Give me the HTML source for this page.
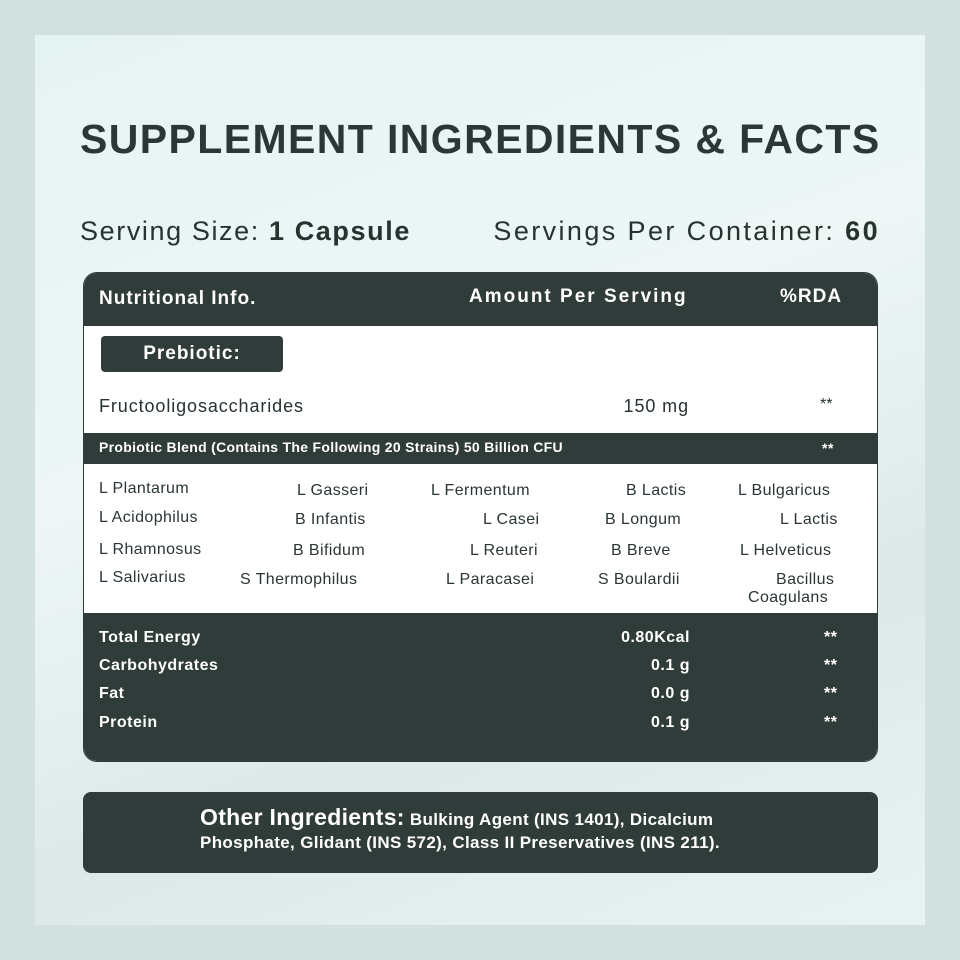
<!DOCTYPE html>
<html><head><style>
body{margin:0;width:960px;height:960px;background:#d2e1e0;position:relative;overflow:hidden;font-family:"Liberation Sans",sans-serif;color:#26332f}
.p{position:absolute;left:35px;top:35px;width:890px;height:890px;background:linear-gradient(160deg,#e6f3f3 0%,#eef6f6 40%,#dde9e9 70%,#e8f2f2 100%)}
.a{position:absolute;white-space:nowrap}
.d{background:#2f3c3a;color:#fff}
.b{font-weight:bold}
.s{font-size:16px;color:#2a3633;letter-spacing:0.4px}
.w{color:#fff;font-weight:bold;font-size:16px;letter-spacing:0.5px}
.r{text-align:right}
</style></head><body>
<div class="p"></div>
<div class="a b" style="left:80px;top:116px;font-size:41px;letter-spacing:1.4px;color:#2a3835">SUPPLEMENT INGREDIENTS &amp; FACTS</div>
<div class="a" style="left:80px;top:216px;font-size:27px;letter-spacing:1.6px">Serving Size: <b>1 Capsule</b></div>
<div class="a r" style="right:80px;top:216px;font-size:27px;letter-spacing:2.4px">Servings Per Container: <b>60</b></div>
<div class="a" style="left:83px;top:272px;width:795px;height:490px;border-radius:14px;background:#fff;overflow:hidden;border:1px solid #2f3c3a;box-sizing:border-box">
 <div class="a d" style="left:0;top:0;width:795px;height:53px"></div>
 <div class="a d" style="left:0;top:160px;width:795px;height:31px"></div>
 <div class="a d" style="left:0;top:340px;width:795px;height:150px"></div>
</div>
<div class="a w" style="left:99px;top:288px;font-size:19px;letter-spacing:1px">Nutritional Info.</div>
<div class="a w" style="left:469px;top:286px;font-size:19px;letter-spacing:2px">Amount Per Serving</div>
<div class="a w" style="left:780px;top:286px;font-size:19px;letter-spacing:1px">%RDA</div>
<div class="a d b" style="left:101px;top:336px;width:182px;height:36px;border-radius:4px;font-size:19px;text-align:center;line-height:36px;letter-spacing:1px">Prebiotic:</div>
<div class="a" style="left:99px;top:396px;font-size:18px;letter-spacing:0.9px">Fructooligosaccharides</div>
<div class="a r" style="right:271px;top:396px;font-size:18px;letter-spacing:0.9px">150 mg</div>
<div class="a" style="left:820px;top:396px;font-size:16px">**</div>
<div class="a w" style="left:99px;top:439px;font-size:14px;letter-spacing:0.3px">Probiotic Blend (Contains The Following 20 Strains) 50 Billion CFU</div>
<div class="a w" style="left:822px;top:440px;font-size:14px">**</div>
<div class="a s" style="left:99px;top:480px">L Plantarum</div>
<div class="a s" style="left:297px;top:482px">L Gasseri</div>
<div class="a s" style="left:431px;top:482px">L Fermentum</div>
<div class="a s" style="left:626px;top:482px">B Lactis</div>
<div class="a s" style="left:738px;top:482px">L Bulgaricus</div>
<div class="a s" style="left:99px;top:509px">L Acidophilus</div>
<div class="a s" style="left:295px;top:511px">B Infantis</div>
<div class="a s" style="left:483px;top:511px">L Casei</div>
<div class="a s" style="left:605px;top:511px">B Longum</div>
<div class="a s" style="left:780px;top:511px">L Lactis</div>
<div class="a s" style="left:99px;top:541px">L Rhamnosus</div>
<div class="a s" style="left:293px;top:542px">B Bifidum</div>
<div class="a s" style="left:470px;top:542px">L Reuteri</div>
<div class="a s" style="left:611px;top:542px">B Breve</div>
<div class="a s" style="left:740px;top:542px">L Helveticus</div>
<div class="a s" style="left:99px;top:569px">L Salivarius</div>
<div class="a s" style="left:240px;top:571px">S Thermophilus</div>
<div class="a s" style="left:446px;top:571px">L Paracasei</div>
<div class="a s" style="left:598px;top:571px">S Boulardii</div>
<div class="a s" style="left:776px;top:571px">Bacillus</div>
<div class="a s" style="left:748px;top:589px">Coagulans</div>
<div class="a w" style="left:99px;top:629px">Total Energy</div>
<div class="a w" style="left:99px;top:657px">Carbohydrates</div>
<div class="a w" style="left:99px;top:685px">Fat</div>
<div class="a w" style="left:99px;top:714px">Protein</div>
<div class="a w r" style="right:270px;top:629px">0.80Kcal</div>
<div class="a w r" style="right:270px;top:657px">0.1 g</div>
<div class="a w r" style="right:270px;top:685px">0.0 g</div>
<div class="a w r" style="right:270px;top:714px">0.1 g</div>
<div class="a w" style="left:824px;top:629px">**</div>
<div class="a w" style="left:824px;top:657px">**</div>
<div class="a w" style="left:824px;top:685px">**</div>
<div class="a w" style="left:824px;top:714px">**</div>
<div class="a d" style="left:83px;top:792px;width:795px;height:81px;border-radius:8px"></div>
<div class="a" style="left:200px;top:806px;color:#fff;font-size:17px;line-height:23px;font-weight:bold;letter-spacing:0.35px"><span style="font-size:23px;letter-spacing:0.3px">Other Ingredients:</span> Bulking Agent (INS 1401), Dicalcium<br>Phosphate, Glidant (INS 572), Class II Preservatives (INS 211).</div>
</body></html>
